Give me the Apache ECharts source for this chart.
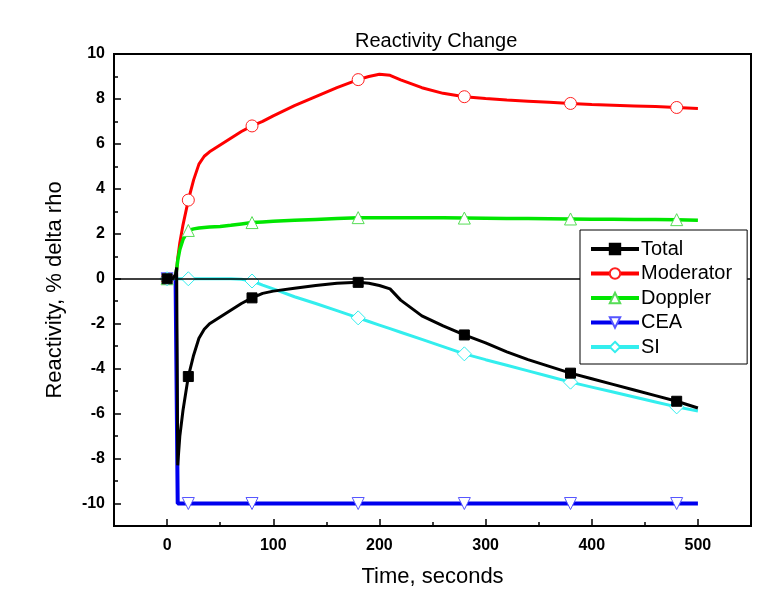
<!DOCTYPE html>
<html>
<head>
<meta charset="utf-8">
<script src="https://cdn.jsdelivr.net/npm/echarts@6/dist/echarts.min.js"></script>
<style>
  html, body { margin: 0; padding: 0; background: #fff; }
  #main { width: 769px; height: 613px; }
</style>
</head>
<body>
<div id="main"></div>
<script>
// time, seconds
const times = [0, 5, 8, 9, 10, 12, 15, 20, 25, 30, 35, 40, 50, 60, 70, 80, 90, 100, 120, 140,
  160, 180, 190, 200, 210, 220, 240, 260, 280, 300, 320, 340, 360, 380, 400, 420, 440, 460, 480, 500];
const markerTimes = [0, 20, 80, 180, 280, 380, 480];

const total = [0, 0, 0.2, 0.5, -8.3, -7.0, -5.85, -4.35, -3.4, -2.65, -2.25, -2.0, -1.7, -1.4, -1.1, -0.85,
  -0.65, -0.55, -0.42, -0.3, -0.2, -0.16, -0.2, -0.3, -0.45, -0.95, -1.65, -2.1, -2.5, -2.85, -3.25, -3.6,
  -3.9, -4.2, -4.45, -4.7, -4.95, -5.2, -5.45, -5.75];
const moderator = [0, 0, 0.1, 0.4, 0.9, 1.6, 2.4, 3.5, 4.4, 5.1, 5.45, 5.65, 5.95, 6.25, 6.55, 6.8,
  7.0, 7.25, 7.7, 8.1, 8.5, 8.86, 9.0, 9.1, 9.05, 8.85, 8.5, 8.25, 8.1, 8.02, 7.95, 7.9,
  7.85, 7.8, 7.75, 7.72, 7.69, 7.66, 7.62, 7.58];
const doppler = [0, 0, 0.1, 0.4, 0.8, 1.3, 1.75, 2.15, 2.22, 2.26, 2.28, 2.3, 2.33, 2.38, 2.44, 2.5,
  2.53, 2.56, 2.6, 2.64, 2.68, 2.72, 2.72, 2.72, 2.72, 2.72, 2.71, 2.71, 2.7, 2.69, 2.68, 2.68,
  2.67, 2.66, 2.65, 2.65, 2.64, 2.64, 2.63, 2.6];
const cea = [0, 0, 0, 0, -10, -10, -10, -10, -10, -10, -10, -10, -10, -10, -10, -10,
  -10, -10, -10, -10, -10, -10, -10, -10, -10, -10, -10, -10, -10, -10, -10, -10,
  -10, -10, -10, -10, -10, -10, -10, -10];
const si = [0, 0, 0, 0, 0, 0, 0, 0, 0, 0, 0, 0, 0, 0, -0.02, -0.1,
  -0.28, -0.45, -0.8, -1.1, -1.42, -1.74, -1.9, -2.06, -2.22, -2.38, -2.7, -3.02, -3.34, -3.6, -3.85, -4.1,
  -4.35, -4.6, -4.82, -5.04, -5.26, -5.48, -5.7, -5.88];

const xMajor = [0, 100, 200, 300, 400, 500];
const xMinor = [50, 150, 250, 350, 450];
const yMajor = [-10, -8, -6, -4, -2, 0, 2, 4, 6, 8, 10];
const yMinor = [-11, -9, -7, -5, -3, -1, 1, 3, 5, 7, 9];

const FONT = '"Liberation Sans", Arial, sans-serif';

function toData(vals) {
  return times.map((t, i) => {
    const item = { value: [t, vals[i]] };
    if (markerTimes.indexOf(t) < 0) item.symbol = 'none';
    return item;
  });
}

function makeSeries(name, vals, lineColor, width, symbol, size, fill, border) {
  return {
    name: name,
    type: 'line',
    data: toData(vals),
    symbol: symbol,
    symbolSize: size,
    showSymbol: true,
    showAllSymbol: true,
    smooth: false,
    lineStyle: { color: lineColor, width: width },
    itemStyle: { color: fill, borderColor: border, borderWidth: 1 },
    emphasis: { disabled: true },
    animation: false
  };
}

const chart = echarts.init(document.getElementById('main'));

const series = [
  makeSeries('Total', total, '#000000', 3, 'rect', 10, '#000000', '#000000'),
  makeSeries('Moderator', moderator, '#ff0000', 3, 'circle', 12, '#ffffff', '#ff2020'),
  makeSeries('Doppler', doppler, '#00e600', 3.5, 'triangle', 12, '#ffffff', '#55dd55'),
  makeSeries('CEA', cea, '#0000ee', 4, 'path://M0,0 L10,0 L5,9 Z', 12, '#ffffff', '#5555ff'),
  makeSeries('SI', si, '#33eeee', 3, 'diamond', 14, '#ffffff', '#33eeee')
];
// draw the total curve above the components
series[0].z = 5;
series[4].markLine = {
  silent: true,
  symbol: 'none',
  label: { show: false },
  lineStyle: { color: '#000', width: 1.5, type: 'solid' },
  data: [{ yAxis: 0 }],
  animation: false
};

const xCommon = {
  type: 'value',
  min: -50,
  max: 550,
  position: 'bottom',
  splitLine: { show: false }
};
const yCommon = {
  type: 'value',
  min: -11,
  max: 10,
  position: 'left',
  splitLine: { show: false }
};

chart.setOption({
  backgroundColor: '#ffffff',
  title: {
    text: 'Reactivity Change',
    left: 350,
    top: 26,
    textStyle: { fontFamily: FONT, fontSize: 20, fontWeight: 'normal', color: '#000' }
  },
  legend: {
    orient: 'vertical',
    left: 580,
    top: 230,
    padding: [9, 15, 7, 9],
    itemGap: 4.5,
    itemWidth: 48,
    itemHeight: 13,
    backgroundColor: '#ffffff',
    borderColor: '#000',
    borderWidth: 1,
    borderRadius: 0,
    lineStyle: { width: 4 },
    textStyle: { fontFamily: FONT, fontSize: 20, color: '#000', padding: [0, 0, 0, -3] },
    data: ['Total', 'Moderator', 'Doppler', 'CEA', 'SI'],
    selectedMode: false,
    z: 10
  },
  grid: {
    left: 114,
    right: 18,
    top: 54,
    bottom: 87,
    show: true,
    borderColor: '#000',
    borderWidth: 2,
    backgroundColor: 'transparent'
  },
  xAxis: [
    Object.assign({}, xCommon, {
      name: 'Time, seconds',
      nameLocation: 'middle',
      nameGap: 40,
      nameTextStyle: { fontFamily: FONT, fontSize: 22, color: '#000' },
      axisLine: { show: true, onZero: false, lineStyle: { color: '#000', width: 2 } },
      axisTick: { show: true, inside: true, length: 7, customValues: xMajor, lineStyle: { color: '#000', width: 1.5 } },
      axisLabel: { customValues: xMajor, fontFamily: FONT, fontSize: 16, fontWeight: 'bold', color: '#000', margin: 12 }
    }),
    Object.assign({}, xCommon, {
      axisLine: { show: false, onZero: false },
      axisTick: { show: true, inside: true, length: 4, customValues: xMinor, lineStyle: { color: '#000', width: 1.5 } },
      axisLabel: { show: false }
    })
  ],
  yAxis: [
    Object.assign({}, yCommon, {
      name: 'Reactivity, % delta rho',
      nameLocation: 'middle',
      nameGap: 48,
      nameTextStyle: { fontFamily: FONT, fontSize: 22, color: '#000' },
      axisLine: { show: true, onZero: false, lineStyle: { color: '#000', width: 2 } },
      axisTick: { show: true, inside: true, length: 7, customValues: yMajor, lineStyle: { color: '#000', width: 1.5 } },
      axisLabel: { customValues: yMajor, fontFamily: FONT, fontSize: 16, fontWeight: 'bold', color: '#000', margin: 9 }
    }),
    Object.assign({}, yCommon, {
      axisLine: { show: false, onZero: false },
      axisTick: { show: true, inside: true, length: 4, customValues: yMinor, lineStyle: { color: '#000', width: 1.5 } },
      axisLabel: { show: false }
    })
  ],
  series: series
});
</script>
</body>
</html>
